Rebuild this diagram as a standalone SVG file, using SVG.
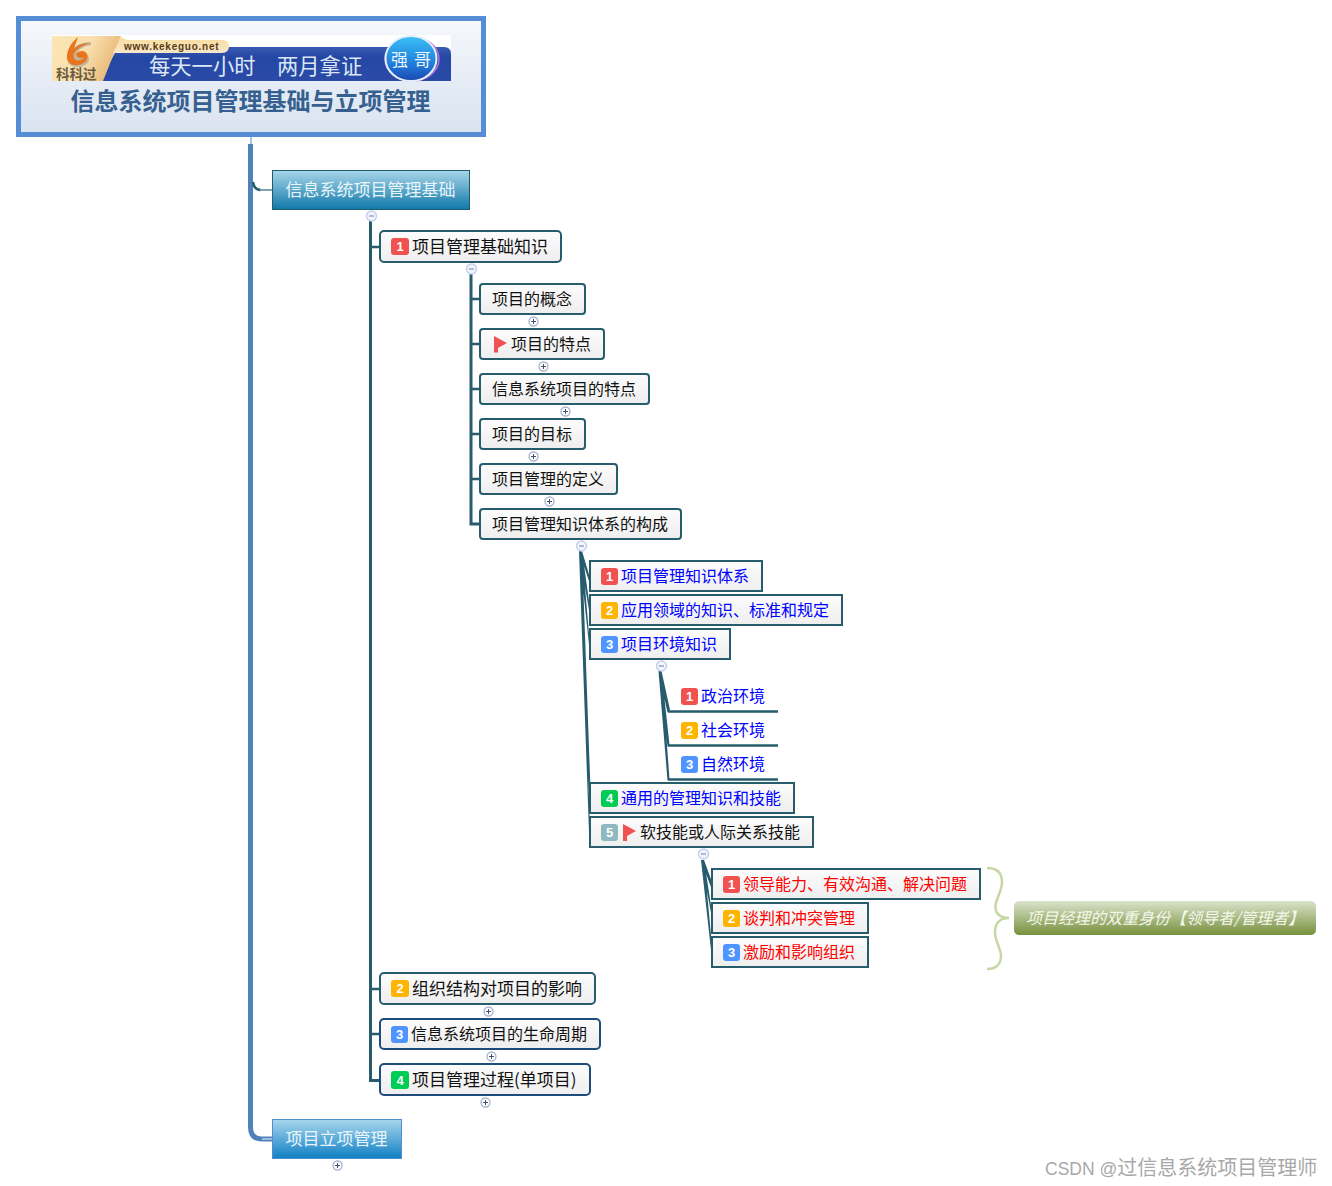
<svg xmlns="http://www.w3.org/2000/svg" width="1332" height="1186" viewBox="0 0 1332 1186">
<style>
text{font-family:"Noto Sans CJK SC","Noto Sans",sans-serif}
.t16{font-size:16px;fill:#111}
.t17{font-size:17px;fill:#111}
.blue{font-size:16px;fill:#0000ff}
.red{font-size:16px;fill:#ff0000}
.top{font-size:17px;fill:#e9f5fb;text-anchor:middle}
.n{fill:url(#nodeG);stroke:#265c6c;stroke-width:2}
.nb{fill:url(#nodeG);stroke:#1f4b7c;stroke-width:2}
.num{font-family:"Liberation Sans",sans-serif;font-size:13px;font-weight:bold;fill:#fff;text-anchor:middle}
.b1{fill:#f05252}.b2{fill:#ffb400}.b3{fill:#4f94ff}.b4{fill:#00cc55}.b5{fill:#8fb8c0}
.flag{fill:#f05252}
.lv{fill:none;stroke:#265c6c;stroke-width:3}
.lh{fill:none;stroke:#265c6c;stroke-width:2.5}
.fan{fill:#265c6c}
.tg circle{fill:#fff;stroke:#aab6d0;stroke-width:1.4}
.tg path{fill:none;stroke:#44506a;stroke-width:1}
.tm circle{fill:#f2f5fd;stroke:#c3d0f0;stroke-width:1.5}
.tm path{fill:none;stroke:#6a7ea8;stroke-width:1}
.band{font-family:"Liberation Sans","Noto Sans CJK SC",sans-serif;font-size:21.3px;fill:#dce7f6}
.wm{font-family:"Liberation Sans","Noto Sans CJK SC",sans-serif;font-size:20px;fill:#a8a8a8}
</style>
<defs>
<linearGradient id="rootG" x1="0" y1="0" x2="0" y2="1"><stop offset="0" stop-color="#f6f8fc"/><stop offset="1" stop-color="#d9e3f0"/></linearGradient>
<linearGradient id="nodeG" x1="0" y1="0" x2="0" y2="1"><stop offset="0" stop-color="#fcfcfc"/><stop offset="1" stop-color="#eeeeee"/></linearGradient>
<linearGradient id="tealG" x1="0" y1="0" x2="0" y2="1"><stop offset="0" stop-color="#a8d6e9"/><stop offset="1" stop-color="#0f78a8"/></linearGradient>
<linearGradient id="blueG" x1="0" y1="0" x2="0" y2="1"><stop offset="0" stop-color="#a8d6ec"/><stop offset="1" stop-color="#1080c4"/></linearGradient>
<linearGradient id="oliveG" x1="0" y1="0" x2="0" y2="1"><stop offset="0" stop-color="#dbe3cc"/><stop offset="1" stop-color="#76903c"/></linearGradient>
<linearGradient id="tanG" x1="0" y1="0" x2="0" y2="1"><stop offset="0" stop-color="#f9dc9c"/><stop offset="1" stop-color="#f6e6cc"/></linearGradient>
<linearGradient id="leftG" x1="0" y1="0" x2="1" y2="0.3"><stop offset="0" stop-color="#fbe6b4"/><stop offset=".55" stop-color="#f9e0ae"/><stop offset="1" stop-color="#e8b878"/></linearGradient>
<linearGradient id="bandG" x1="0" y1="0" x2="0" y2="1"><stop offset="0" stop-color="#3a5ab0"/><stop offset=".3" stop-color="#2547a4"/><stop offset="1" stop-color="#2a4aa6"/></linearGradient>
<linearGradient id="ballG" x1="0" y1="0" x2="0" y2="1"><stop offset="0" stop-color="#3cc0f6"/><stop offset=".6" stop-color="#2080dc"/><stop offset="1" stop-color="#1a48b0"/></linearGradient>
</defs>

<g id="connectors">
<path d="M251 137V144" fill="none" stroke="#8fb0dc" stroke-width="1.5"/>
<path d="M250.500 144V1127Q250.500 1139 262 1139H272" fill="none" stroke="#4f81bd" stroke-width="5"/>
<path d="M262 1139H272" fill="none" stroke="#9dbce0" stroke-width="2"/>
<path d="M253 182Q254 190 261 190" fill="none" stroke="#265c6c" stroke-width="2.500"/>
<path d="M260 190H272" fill="none" stroke="#7fa3ac" stroke-width="2"/>
<path class="lv" d="M370.500 220V1080.500H380"/>
<path class="lh" d="M370 247H380M370 989H380M370 1034H380"/>
<path class="lv" d="M471 273V524H480"/>
<path class="lh" d="M471 299H480M471 344H480M471 389H480M471 434H480M471 479H480"/>
<path class="fan" d="M579 551L582 551L590 578L590 584ZM579 551L582 551L590 608L590 616ZM579 551L582 551L590 646L590 654ZM579 551L582 551L590.500 790L589 790ZM579 551L582 551L590 832L589 832Z"/>
<path class="fan" d="M658.500 671L661.500 671L670 710L667.500 712.500ZM658.500 671L661.500 671L669.500 745L667.500 746.500ZM658.500 671L661.500 671L669.500 779L667.500 780.500Z"/>
<path class="lh" d="M668 711.500H778M668 745.500H778M668 779.500H778"/>
<path class="fan" d="M701 860L704 860L712 882L712 890ZM701 860L704 860L712 912L712 918ZM701 860L704 860L712 946L711 950Z"/>
<path d="M987 868C998 868 1002 874 1002 882C1002 892 996 898 995.500 906C995 914 1001 918 1009 918C1001 918 995 922 995 932C995 942 1001 948 1001 956C1001 964 996 969 987 969" fill="none" stroke="#c6d8a2" stroke-width="2.500"/>
</g>

<g id="root">
<rect x="18.500" y="18.500" width="465" height="116" fill="url(#rootG)" stroke="#558ed5" stroke-width="5"/>
<rect x="52" y="35" width="399" height="46" fill="#fff"/>
<path d="M100 81L118 47H444Q451 47 451 54V81Z" fill="url(#bandG)"/>
<path d="M52 36H121L103 81H52Z" fill="url(#leftG)"/>
<path d="M121 37L127 40H222Q229 40 229 46Q229 53 222 53H113Z" fill="url(#tanG)"/>
<path d="M91 42C80 42 71 47 68 56C66 63 71 68 79 67C87 66 91 60 88 56C85 52 79 52 76 55C79 48 85 46 91 45Z" fill="#8a8a8a" opacity=".5"/>
<path d="M78 37C72 42 68 48 67 55C66 62 71 66 78 65C85 64 89 58 87 54C85 50 79 50 76 54C77 58 81 59 84 57C82 61 76 62 74 58C72 52 78 47 90 43C82 43 77 46 74 49C75 44 77 41 78 37Z" fill="#e9741c"/>
<text x="124" y="50" font-size="10" font-weight="bold" letter-spacing=".75" fill="#5a3a10" style="font-family:'Liberation Sans',sans-serif">www.kekeguo.net</text>
<text class="band" x="149" y="74">每天一小时</text>
<text class="band" x="277" y="74">两月拿证</text>
<text x="56" y="79" font-size="13.500" font-weight="bold" fill="#6b5b40">科科过</text>
<ellipse cx="412" cy="59" rx="27" ry="22" fill="none" stroke="#b070e0" stroke-width="1.500"/>
<ellipse cx="411" cy="58.500" rx="25.500" ry="22.500" fill="url(#ballG)" stroke="#e4effa" stroke-width="2"/>
<text x="391" y="66" font-size="17" fill="#eef6fd">强</text>
<text x="414" y="66" font-size="17" fill="#eef6fd">哥</text>
<text x="250.500" y="110" font-size="24" font-weight="bold" fill="#35608f" text-anchor="middle">信息系统项目管理基础与立项管理</text>
</g>

<g id="n1"><rect x="272.500" y="170.500" width="197" height="39" fill="url(#tealG)" stroke="#1f5c6c" stroke-width="1"/><text class="top" x="370.500" y="196">信息系统项目管理基础</text></g>
<g id="n2"><rect x="272.500" y="1119.500" width="129" height="39" fill="url(#blueG)" stroke="#4f8ed0" stroke-width="1"/><text class="top" x="336.500" y="1145">项目立项管理</text></g>

<g id="a1"><rect class="n" x="380" y="231" width="181" height="31" rx="4"/><rect class="b1" x="391" y="238" width="18" height="17" rx="3"/><text class="num" x="400" y="251">1</text><text class="t17" x="412" y="253">项目管理基础知识</text></g>
<g id="a2"><rect class="n" x="380" y="973" width="215" height="31" rx="4"/><rect class="b2" x="391" y="980" width="18" height="17" rx="3"/><text class="num" x="400" y="993">2</text><text class="t17" x="412" y="995">组织结构对项目的影响</text></g>
<g id="a3"><rect class="nb" x="380" y="1019" width="220" height="30" rx="4"/><rect class="b3" x="391" y="1026" width="17" height="17" rx="3"/><text class="num" x="399.500" y="1039">3</text><text class="t16" x="411" y="1040">信息系统项目的生命周期</text></g>
<g id="a4"><rect class="nb" x="380" y="1064" width="210" height="31" rx="4"/><rect class="b4" x="391" y="1071" width="18" height="18" rx="3"/><text class="num" x="400" y="1084.500">4</text><text class="t17" x="412" y="1086">项目管理过程(单项目)</text></g>

<g id="b1"><rect class="n" x="480" y="284" width="105" height="30" rx="3"/><text class="t16" x="492" y="305">项目的概念</text></g>
<g id="b2"><rect class="n" x="480" y="329" width="124" height="30" rx="3"/><path class="flag" d="M494 336L507 343L498 348V352.500H494Z"/><text class="t16" x="511" y="350">项目的特点</text></g>
<g id="b3"><rect class="n" x="480" y="374" width="169" height="30" rx="3"/><text class="t16" x="492" y="395">信息系统项目的特点</text></g>
<g id="b4"><rect class="n" x="480" y="419" width="105" height="30" rx="3"/><text class="t16" x="492" y="440">项目的目标</text></g>
<g id="b5"><rect class="n" x="480" y="464" width="137" height="30" rx="3"/><text class="t16" x="492" y="485">项目管理的定义</text></g>
<g id="b6"><rect class="n" x="480" y="509" width="201" height="30" rx="3"/><text class="t16" x="492" y="530">项目管理知识体系的构成</text></g>

<g id="c1"><rect class="n" x="590" y="561" width="172" height="30"/><rect class="b1" x="601" y="568" width="17" height="17" rx="3"/><text class="num" x="609.500" y="581">1</text><text class="blue" x="621" y="582">项目管理知识体系</text></g>
<g id="c2"><rect class="n" x="590" y="595" width="252" height="30"/><rect class="b2" x="601" y="602" width="17" height="17" rx="3"/><text class="num" x="609.500" y="615">2</text><text class="blue" x="621" y="616">应用领域的知识、标准和规定</text></g>
<g id="c3"><rect class="n" x="590" y="629" width="140" height="30"/><rect class="b3" x="601" y="636" width="17" height="17" rx="3"/><text class="num" x="609.500" y="649">3</text><text class="blue" x="621" y="650">项目环境知识</text></g>
<g id="c4"><rect class="n" x="590" y="783" width="204" height="30"/><rect class="b4" x="601" y="790" width="17" height="17" rx="3"/><text class="num" x="609.500" y="803">4</text><text class="blue" x="621" y="804">通用的管理知识和技能</text></g>
<g id="c5"><rect class="n" x="590" y="817" width="223" height="30"/><rect class="b5" x="601" y="824" width="17" height="17" rx="3"/><text class="num" x="609.500" y="837">5</text><path class="flag" d="M623 824L636 831L627 836V841H623Z"/><text class="t16" x="640" y="838">软技能或人际关系技能</text></g>

<g id="d1"><rect class="b1" x="681" y="688" width="17" height="17" rx="3"/><text class="num" x="689.500" y="701">1</text><text class="blue" x="701" y="702">政治环境</text></g>
<g id="d2"><rect class="b2" x="681" y="722" width="17" height="17" rx="3"/><text class="num" x="689.500" y="735">2</text><text class="blue" x="701" y="736">社会环境</text></g>
<g id="d3"><rect class="b3" x="681" y="756" width="17" height="17" rx="3"/><text class="num" x="689.500" y="769">3</text><text class="blue" x="701" y="770">自然环境</text></g>

<g id="e1"><rect class="n" x="712" y="869" width="268" height="30"/><rect class="b1" x="723" y="876" width="17" height="17" rx="3"/><text class="num" x="731.500" y="889">1</text><text class="red" x="743" y="890">领导能力、有效沟通、解决问题</text></g>
<g id="e2"><rect class="n" x="712" y="903" width="156" height="30"/><rect class="b2" x="723" y="910" width="17" height="17" rx="3"/><text class="num" x="731.500" y="923">2</text><text class="red" x="743" y="924">谈判和冲突管理</text></g>
<g id="e3"><rect class="n" x="712" y="937" width="156" height="30"/><rect class="b3" x="723" y="944" width="17" height="17" rx="3"/><text class="num" x="731.500" y="957">3</text><text class="red" x="743" y="958">激励和影响组织</text></g>

<g id="summary"><rect x="1014" y="901" width="302" height="34" rx="5" fill="url(#oliveG)"/><text x="1026" y="924" font-size="16" font-style="italic" fill="#f4f7ea">项目经理的双重身份【领导者/管理者】</text></g>

<g id="toggles">
<g class="tm"><circle cx="371.500" cy="216" r="5"/><path d="M369 216H374"/></g>
<g class="tm"><circle cx="471.500" cy="269" r="5"/><path d="M469 269H474"/></g>
<g class="tm"><circle cx="581.500" cy="546" r="5"/><path d="M579 546H584"/></g>
<g class="tm"><circle cx="661.500" cy="666" r="5"/><path d="M659 666H664"/></g>
<g class="tm"><circle cx="703.500" cy="854" r="5"/><path d="M701 854H706"/></g>
<g class="tg"><circle cx="533.500" cy="321.500" r="4.500"/><path d="M531 321.500H536M533.500 319V324"/></g>
<g class="tg"><circle cx="543.500" cy="366.500" r="4.500"/><path d="M541 366.500H546M543.500 364V369"/></g>
<g class="tg"><circle cx="565.500" cy="411.500" r="4.500"/><path d="M563 411.500H568M565.500 409V414"/></g>
<g class="tg"><circle cx="533.500" cy="456.500" r="4.500"/><path d="M531 456.500H536M533.500 454V459"/></g>
<g class="tg"><circle cx="549.500" cy="501.500" r="4.500"/><path d="M547 501.500H552M549.500 499V504"/></g>
<g class="tg"><circle cx="488.500" cy="1011.500" r="4.500"/><path d="M486 1011.500H491M488.500 1009V1014"/></g>
<g class="tg"><circle cx="491.500" cy="1056.500" r="4.500"/><path d="M489 1056.500H494M491.500 1054V1059"/></g>
<g class="tg"><circle cx="485.500" cy="1102.500" r="4.500"/><path d="M483 1102.500H488M485.500 1100V1105"/></g>
<g class="tg"><circle cx="337.500" cy="1165.500" r="4.500"/><path d="M335 1165.500H340M337.500 1163V1168"/></g>
</g>

<text id="watermark" class="wm" x="1045" y="1175"><tspan font-size="17.500">CSDN @</tspan>过信息系统项目管理师</text>
</svg>
